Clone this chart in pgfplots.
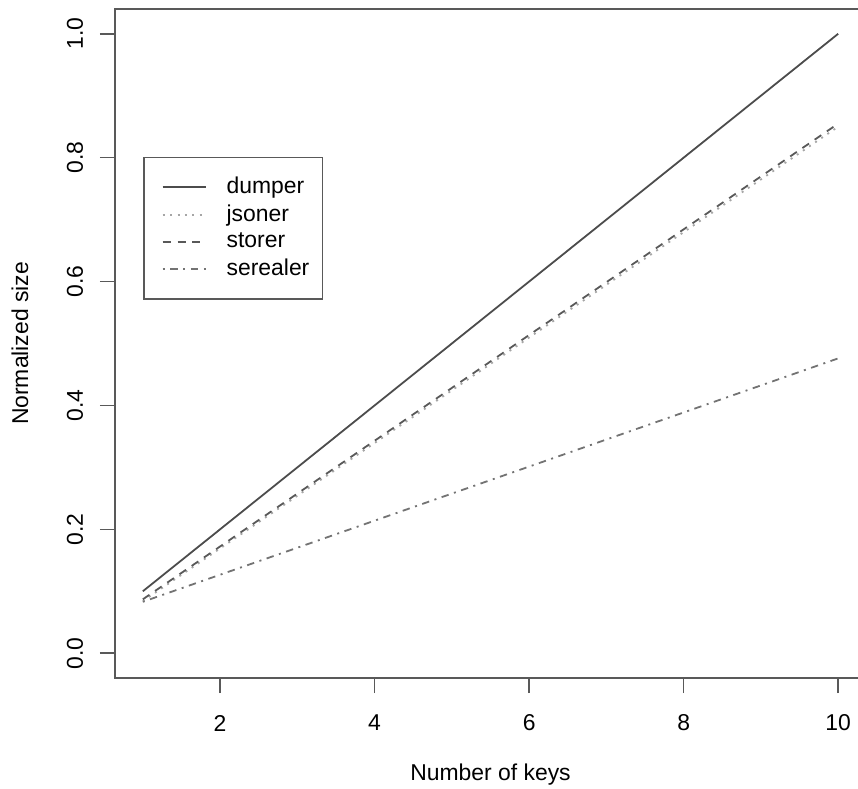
\documentclass[border=0pt]{standalone}
\usepackage{fontspec}
\setmainfont{Liberation Sans}
\usepackage{pgfplots}
\pgfplotsset{compat=1.18}

\begin{document}
\fontsize{11.5}{13.8}\selectfont
\begin{tikzpicture}
  % page = reference frame; the axis box runs past the right edge
  \path[use as bounding box] (-57.5bp,-55.5bp) rectangle (371.5bp,339bp);
  \clip (-57.5bp,-55.5bp) rectangle (371.5bp,339bp);
  \begin{axis}[
    at={(0,0)}, anchor=south west,
    scale only axis,
    width=375.5bp, height=334.5bp,
    xmin=0.64, xmax=10.36,
    ymin=-0.04, ymax=1.04,
    xtick={2,4,6,8,10},
    ytick={0,0.2,0.4,0.6,0.8,1.0},
    yticklabels={0.0,0.2,0.4,0.6,0.8,1.0},
    tick align=outside,
    major tick length=7.5bp,
    xtick pos=bottom, ytick pos=left,
    axis line style={black!65, line width=0.8bp},
    tick style={black!65, line width=0.8bp},
    /pgf/number format/assume math mode=true,
    ticklabel style={font=\fontsize{11.5}{13.8}\selectfont},
    xticklabel style={anchor=center, yshift=-15bp},
    yticklabel style={rotate=90, anchor=center, yshift=12.5bp},
    xlabel={Number of keys},
    ylabel={Normalized size},
    xlabel style={at={(axis description cs:0.5,0)}, anchor=center, yshift=-48.5bp},
    ylabel style={at={(axis description cs:0,0.5)}, anchor=center, yshift=47.5bp},
    legend cell align=left,
    legend style={
      at={(0.0373,0.779)}, anchor=north west,
      draw=black!65, line width=0.8bp,
      font=\fontsize{11.5}{13.8}\selectfont,
      inner xsep=3.5bp, inner ysep=9bp,
      row sep=2.35bp,
      nodes={inner xsep=3bp, inner ysep=0.8bp},
      /tikz/every odd column/.append style={column sep=7bp},
    },
    legend image code/.code={
      \path (0bp,0bp);
      \draw[#1] (5.5bp,0bp) -- (27bp,0bp);
    },
  ]
    \addplot[black!70, line width=0.9bp] coordinates {
      (1,0.100) (2,0.200) (3,0.300) (4,0.400) (5,0.500)
      (6,0.600) (7,0.700) (8,0.800) (9,0.900) (10,1.000)
    };
    \addlegendentry{dumper}
    \addplot[black!35, line width=0.9bp, dash pattern=on 1bp off 2.7bp] coordinates {
      (1,0.0840) (2,0.1691) (3,0.2542) (4,0.3393) (5,0.4244)
      (6,0.5096) (7,0.5947) (8,0.6798) (9,0.7649) (10,0.8500)
    };
    \addlegendentry{jsoner}
    \addplot[black!65, line width=0.9bp, dash pattern=on 4bp off 3.4bp] coordinates {
      (1,0.0870) (2,0.1723) (3,0.2577) (4,0.3430) (5,0.4283)
      (6,0.5137) (7,0.5990) (8,0.6843) (9,0.7697) (10,0.8550)
    };
    \addlegendentry{storer}
    \addplot[black!55, line width=0.9bp, dash pattern=on 1bp off 2.8bp on 3.7bp off 2.8bp] coordinates {
      (1,0.0830) (2,0.1267) (3,0.1703) (4,0.2140) (5,0.2577)
      (6,0.3013) (7,0.3450) (8,0.3887) (9,0.4323) (10,0.4760)
    };
    \addlegendentry{serealer}
  \end{axis}
\end{tikzpicture}
\end{document}
